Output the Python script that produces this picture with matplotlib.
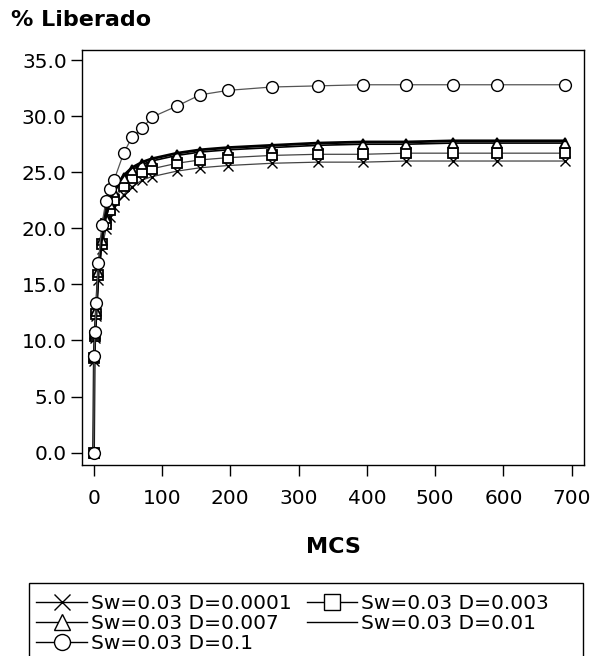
import matplotlib
matplotlib.use("Agg")
import matplotlib.pyplot as plt
from matplotlib.lines import Line2D
from matplotlib.patches import Rectangle

plt.rcParams['font.family'] = ['DejaVu Sans']

# MCS steps
mcs = [0, 1, 2, 4, 7, 12, 18, 24, 30, 44, 56, 71, 85, 122, 156, 197, 261, 328, 394, 458, 526, 590, 690]

d_0001 = [0, 8.2, 10.2, 12.2, 15.4, 18.2, 19.9, 21.0, 21.9, 23.0, 23.7, 24.3, 24.6, 25.1, 25.4, 25.6, 25.8, 25.9, 25.9, 26.0, 26.0, 26.0, 26.0]
d_003 = [0, 8.4, 10.4, 12.4, 15.8, 18.6, 20.4, 21.6, 22.5, 23.8, 24.5, 25.0, 25.3, 25.8, 26.1, 26.3, 26.5, 26.6, 26.6, 26.7, 26.7, 26.7, 26.7]
d_007 = [0, 8.5, 10.6, 12.6, 16.1, 19.0, 20.9, 22.2, 23.2, 24.5, 25.2, 25.7, 26.0, 26.5, 26.8, 27.0, 27.2, 27.4, 27.5, 27.5, 27.6, 27.6, 27.6]
d_01 = [0, 8.5, 10.6, 12.7, 16.2, 19.1, 21.1, 22.4, 23.4, 24.7, 25.4, 25.9, 26.2, 26.7, 27.0, 27.2, 27.4, 27.6, 27.7, 27.7, 27.8, 27.8, 27.8]
d_1 = [0, 8.6, 10.8, 13.3, 16.9, 20.3, 22.4, 23.5, 24.3, 26.7, 28.1, 28.9, 29.9, 30.9, 31.9, 32.3, 32.6, 32.7, 32.8, 32.8, 32.8, 32.8, 32.8]

labels = ["Sw=0.03 D=0.0001", "Sw=0.03 D=0.003", "Sw=0.03 D=0.007", "Sw=0.03 D=0.01", "Sw=0.03 D=0.1"]
yticks = [0, 5, 10, 15, 20, 25, 30, 35]
xticks = [0, 100, 200, 300, 400, 500, 600, 700]

fig = plt.figure(figsize=(6.09, 6.56), dpi=100)
ax = fig.add_axes([0.1346, 0.2912, 0.8244, 0.6326])

ms = 7.5
h1, = ax.plot(mcs, d_0001, color='#444444', lw=0.9, marker='x', ms=ms, mew=1.0, mec='black')
h2, = ax.plot(mcs, d_003, color='#444444', lw=0.9, marker='s', ms=ms, mfc='white', mec='black', mew=1.3)
h3, = ax.plot(mcs, d_007, color='black', lw=1.2, marker='^', ms=ms, mfc='white', mec='black', mew=1.3)
h4, = ax.plot(mcs, d_01, color='black', lw=2.0)
h5, = ax.plot(mcs, d_1, color='#555555', lw=0.9, marker='o', ms=ms + 1, mfc='white', mec='black', mew=1.0)

ax.set_xlim(-17, 718)
ax.set_ylim(-1.1, 35.9)
ax.set_xticks(xticks)
ax.set_yticks(yticks)
ax.set_yticklabels([f"{v:.1f}" for v in yticks])
ax.tick_params(axis='both', direction='out', length=8, width=1, labelsize=14.5)
ax.tick_params(axis='x', pad=9)
ax.tick_params(axis='y', pad=3)
for s in ax.spines.values():
    s.set_linewidth(1.0)

ax.set_xlabel("MCS", fontsize=16, fontweight='bold', labelpad=21)
fig.text(0.018, 0.985, "% Liberado", fontsize=16, fontweight='bold', va='top', ha='left')

handles = [h1, h3, h5, h2, h4]
leg_labels = [labels[0], labels[2], labels[4], labels[1], labels[3]]
leg_handles = []
for h in handles:
    leg_handles.append(Line2D([], [], color='black', lw=1.0, marker=h.get_marker(),
                              ms=11.5, mfc='white', mec='black', mew=1.0))
leg = fig.legend(leg_handles, leg_labels, ncol=2, loc='upper left',
                 bbox_to_anchor=(0.050, 0.104), bbox_transform=fig.transFigure,
                 fontsize=14.5, frameon=False,
                 handlelength=2.5, handletextpad=0.2, columnspacing=0.75,
                 labelspacing=0.05, borderpad=0.3, borderaxespad=0)
# legend box (extends past the bottom edge, as in the reference)
fig.patches.append(Rectangle((29 / 609, -0.02), (583 - 29) / 609, 0.02 + (656 - 583) / 656,
                             transform=fig.transFigure, fill=False, edgecolor='black', lw=1.0))

fig.savefig("out.png", dpi=100)
